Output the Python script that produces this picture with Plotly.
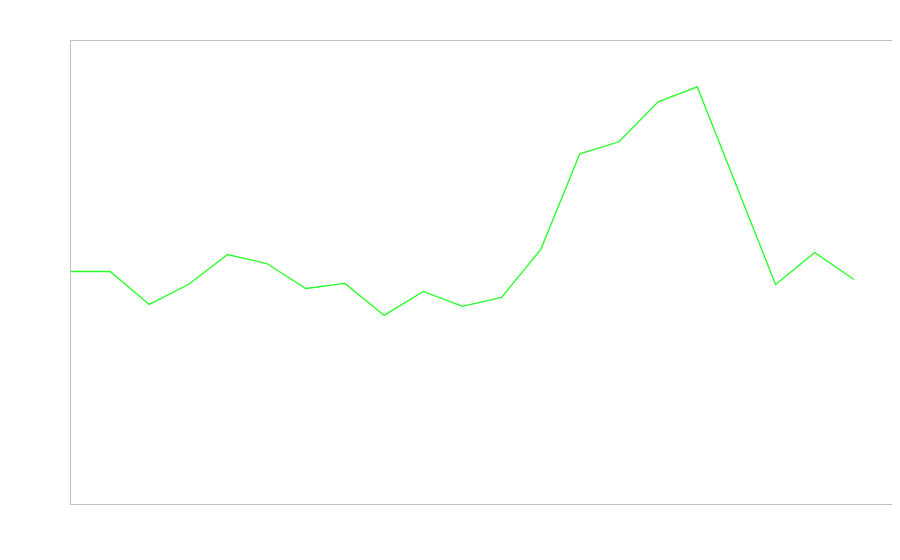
import plotly.graph_objects as go

x_index = list(range(21))
values = [233, 233, 200, 220, 250, 241, 216, 221, 189, 213, 198, 207, 255, 351, 363, 403, 418, 319, 220, 252, 225]

fig = go.Figure()
fig.add_trace(go.Scatter(x=x_index, y=values, mode="lines",
                         line=dict(color="#22ff22", width=1.3), showlegend=False,
                         hoverinfo="skip"))

axis_style = dict(showgrid=False, zeroline=False, showticklabels=False, ticks="",
                  showline=True, mirror=True, linecolor="#c0c0c0", linewidth=1)
fig.update_layout(
    width=900, height=560,
    margin=dict(l=63, r=15, t=33, b=64),
    paper_bgcolor="white", plot_bgcolor="white",
    xaxis=dict(range=[0, 21], **axis_style),
    yaxis=dict(range=[0, 464], **axis_style),
)
fig.write_html("out.html")
